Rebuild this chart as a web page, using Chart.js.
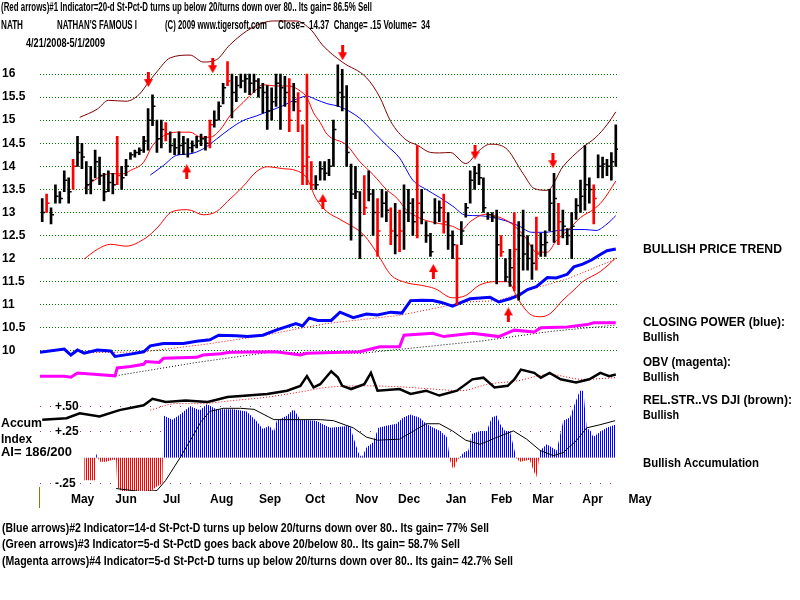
<!DOCTYPE html>
<html>
<head>
<meta charset="utf-8">
<script src="https://cdn.jsdelivr.net/npm/chart.js@4/dist/chart.umd.min.js"></script>
<style>
  body { margin: 0; background: #fff; }
  #wrap { position: relative; width: 800px; height: 600px; overflow: hidden; }
  #chart { position: absolute; left: 0; top: 0; }
  .t { position: absolute; white-space: pre; font: bold 12px "Liberation Sans", Arial, sans-serif; line-height: 14px; color: #000; transform-origin: 0 50%; }
  .big { font-size: 13px; }
  #mark { position: absolute; left: 39px; top: 487px; width: 1px; height: 21px; background: #808000; }
</style>
</head>
<body>
<div id="wrap">
  <canvas id="chart" width="800" height="600"></canvas>
  <div id="mark"></div>
</div>
<script>
// trading days counted from 4/21/2008 (day 0) to 5/1/2009 (day 260)
const monthTickDay = [18.3, 38, 58.7, 81.4, 103.3, 123.7, 147.1, 166.3, 187.6, 208.3, 227, 249.5, 271];
const monthNames = ["May", "Jun", "Jul", "Aug", "Sep", "Oct", "Nov", "Dec", "Jan", "Feb", "Mar", "Apr", "May"];
const priceTicks = [10, 10.5, 11, 11.5, 12, 12.5, 13, 13.5, 14, 14.5, 15, 15.5, 16];
const accumTicks = [-0.25, 0.25, 0.5];
const accumTickLabels = ["-.25", "+.25", "+.50"];

// one bar every second trading day
const priceHigh = [
  13.3, 13.4, 13.1, 13.6, 13.45, 13.9, 13.75, 14.15, 14.65, 14.5,
  14.1, 14.0, 14.35, 14.2, 13.85, 13.9, 13.85, 14.65, 14.0, 14.15,
  14.3, 14.35, 14.4, 14.65, 15.25, 15.55, 15.0, 15.0, 14.95, 14.75,
  14.6, 14.75, 14.65, 14.6, 14.55, 14.65, 14.7, 14.65, 15.0, 15.2,
  15.4, 15.8, 16.27, 16.0, 15.95, 16.0, 16.0, 16.0, 16.0, 15.9,
  15.8, 15.75, 15.7, 16.0, 16.0, 15.95, 15.9, 15.8, 15.6, 14.9,
  16.0, 14.1, 13.8, 14.1, 14.1, 14.15, 15.0, 16.2, 16.1, 15.75,
  14.05, 14.0, 13.45, 13.8, 13.9, 13.5, 13.3, 13.5, 13.45, 13.1,
  13.2, 13.05, 13.6, 13.5, 13.3, 14.45, 13.5, 12.8, 12.55, 13.3,
  13.25, 13.4, 13.0, 12.6, 12.3, 12.8, 13.2, 13.9, 14.0, 14.05,
  13.75, 13.0, 13.0, 13.05, 12.5, 12.0, 12.2, 13.0, 12.8, 13.05,
  12.5, 12.3, 12.9, 12.55, 12.6, 13.5, 13.85, 13.2, 13.05, 12.65,
  13.0, 13.3, 13.7, 14.45, 13.75, 13.6, 14.25, 14.2, 14.15, 14.3,
  14.9
];
const priceLow = [
  12.8, 13.0, 12.75, 13.2, 13.2, 13.45, 13.2, 13.5, 14.0, 13.95,
  13.4, 13.4, 13.75, 13.6, 13.25, 13.45, 13.4, 13.6, 13.5, 13.8,
  14.15, 14.2, 14.25, 14.3, 14.35, 14.88, 14.3, 14.4, 14.55, 14.3,
  14.25, 14.25, 14.25, 14.2, 14.3, 14.4, 14.45, 14.35, 14.4, 14.85,
  15.0, 15.35, 15.75, 15.05, 15.4, 15.7, 15.6, 15.55, 15.6, 15.5,
  15.15, 14.8, 15.0, 15.3, 14.8, 15.3, 14.75, 15.2, 14.75, 13.6,
  13.6, 13.5, 13.5, 13.7, 13.7, 13.8, 14.0, 15.3, 15.2, 14.0,
  12.4, 13.3, 12.0, 12.95, 13.25, 12.5, 12.05, 12.9, 12.8, 12.3,
  12.1, 12.15, 12.2, 12.8, 12.5, 12.45, 12.75, 12.35, 12.05, 12.75,
  12.8, 12.55, 12.2, 12.0, 11.0, 12.3, 12.9, 13.2, 13.5, 13.6,
  13.0, 12.85, 12.8, 11.45, 12.05, 11.5, 11.4, 11.3, 11.1, 11.75,
  11.75, 11.55, 11.75, 12.05, 12.05, 12.6, 12.35, 12.3, 12.45, 12.3,
  12.0, 12.85, 13.0, 13.05, 13.2, 12.75, 13.75, 13.75, 13.8, 13.7,
  14.0
];
const priceClose = [
  13.0, 13.2, 12.95, 13.35, 13.3, 13.7, 13.45, 14.0, 14.3, 14.2,
  13.6, 13.7, 14.1, 13.8, 13.45, 13.65, 13.6, 13.8, 13.75, 14.0,
  14.25, 14.3, 14.35, 14.55, 15.0, 15.3, 14.6, 14.8, 14.7, 14.45,
  14.4, 14.45, 14.5, 14.4, 14.45, 14.55, 14.6, 14.5, 14.9, 15.0,
  15.3, 15.7, 15.85, 15.6, 15.75, 15.85, 15.9, 15.8, 15.85, 15.7,
  15.6, 15.2, 15.4, 15.8, 15.7, 15.6, 15.0, 15.4, 15.2, 14.0,
  14.2, 13.6, 13.6, 13.95, 13.85, 14.0, 14.8, 15.6, 15.5, 14.3,
  13.4, 13.45, 12.5, 13.1, 13.4, 13.0, 12.6, 13.2, 13.05, 12.6,
  12.5, 12.6, 13.0, 13.2, 12.8, 13.2, 13.0, 12.5, 12.15, 13.0,
  13.1, 12.8, 12.5, 12.3, 12.0, 12.6, 13.1, 13.7, 13.85, 13.75,
  13.1, 12.95, 12.9, 12.3, 12.15, 11.6, 11.8, 12.2, 12.5, 12.1,
  12.0, 11.9, 12.1, 12.3, 12.35, 13.2, 13.3, 12.8, 12.7, 12.5,
  12.7, 13.15, 13.35, 13.6, 13.5, 13.3, 14.0, 14.05, 14.0, 14.1,
  14.37
];
const redBarDays = [2, 14, 34, 56, 76, 84, 112, 116, 118, 120, 122, 146, 152, 158, 162, 170, 182, 188, 208, 214, 224, 234, 250];

// [day, value] pairs
const upperBand = [[17, 15.06], [25, 15.24], [30, 15.43], [38, 15.41], [44, 15.56], [48, 15.81], [52, 16.05], [58, 16.35], [67, 16.41], [73, 16.26], [79, 16.31], [85, 16.63], [95, 17.0], [105, 17.15], [115, 17.15], [122, 16.95], [127, 16.63], [136, 16.26], [147, 15.92], [153, 15.5], [158, 14.97], [165, 14.57], [170, 14.46], [176, 14.3], [180, 14.29], [185, 14.3], [192, 14.06], [198, 14.34], [203, 14.48], [210, 14.4], [218, 13.84], [223, 13.52], [229, 13.48], [236, 13.99], [245, 14.41], [251, 14.63], [256, 14.9], [260, 15.18]];
const lowerBand = [[19, 11.99], [25, 12.2], [31, 12.31], [38, 12.27], [47, 12.45], [52, 12.66], [59, 13.02], [66, 13.06], [73, 12.95], [79, 13.02], [84, 13.24], [91, 13.56], [97, 13.88], [102, 13.99], [109, 13.95], [115, 13.91], [120, 13.74], [124, 13.31], [129, 13.02], [135, 12.85], [146, 12.5], [152, 12.1], [158, 11.65], [165, 11.48], [172, 11.42], [178, 11.35], [186, 11.15], [192, 11.2], [198, 11.42], [205, 11.5], [211, 11.5], [216, 11.1], [221, 10.8], [226, 10.74], [230, 10.8], [236, 11.1], [241, 11.32], [245, 11.5], [253, 11.72], [257, 11.88], [260, 12.02]];
const redAverage = [[19, 13.52], [25, 13.74], [31, 13.84], [37, 13.84], [40, 13.91], [46, 14.09], [50, 14.45], [55, 14.66], [61, 14.74], [67, 14.74], [72, 14.63], [76, 14.63], [81, 14.81], [85, 15.09], [91, 15.38], [97, 15.66], [100, 15.77], [106, 15.74], [112, 15.74], [117, 15.63], [120, 15.49], [123, 15.16], [126, 14.95], [129, 14.7], [138, 14.46], [144, 14.1], [150, 13.82], [156, 13.5], [161, 13.3], [165, 13.06], [172, 12.86], [180, 12.76], [186, 12.7], [190, 12.62], [194, 12.8], [201, 12.96], [207, 12.9], [213, 12.75], [219, 12.46], [224, 12.14], [229, 12.14], [233, 12.39], [238, 12.6], [244, 12.89], [250, 13.07], [254, 13.25], [260, 13.68]];
const blueAverage = [[49, 13.81], [55, 14.02], [61, 14.24], [67, 14.27], [73, 14.38], [79, 14.59], [85, 14.81], [91, 14.99], [97, 15.09], [103, 15.2], [109, 15.31], [115, 15.45], [120, 15.52], [124, 15.45], [129, 15.36], [135, 15.29], [144, 15.04], [150, 14.75], [156, 14.46], [162, 14.18], [168, 13.7], [174, 13.5], [180, 13.33], [186, 13.14], [192, 12.94], [198, 12.93], [204, 12.89], [210, 12.82], [216, 12.71], [222, 12.57], [228, 12.57], [234, 12.61], [240, 12.63], [246, 12.63], [251, 12.61], [256, 12.75], [260, 12.93]];
const closingPower = [[-1, 9.97], [10, 10.04], [13, 9.91], [16, 10.02], [19, 9.95], [25, 10.02], [31, 10.0], [33, 9.88], [40, 9.93], [46, 9.98], [49, 10.11], [55, 10.16], [64, 10.16], [70, 10.21], [76, 10.24], [80, 10.34], [88, 10.33], [93, 10.31], [100, 10.34], [106, 10.45], [115, 10.59], [118, 10.54], [121, 10.71], [125, 10.66], [131, 10.66], [135, 10.84], [141, 10.72], [147, 10.8], [152, 10.78], [158, 10.84], [163, 10.82], [167, 11.09], [172, 11.1], [177, 11.09], [181, 11.05], [186, 10.97], [190, 11.05], [194, 11.13], [203, 11.16], [207, 11.06], [212, 11.13], [216, 11.2], [220, 11.33], [224, 11.39], [229, 11.59], [233, 11.58], [238, 11.66], [241, 11.82], [245, 11.88], [249, 11.97], [253, 12.09], [256, 12.17], [260, 12.21]];
const closingPowerTrend = [[19, 9.96], [46, 9.98], [75, 10.15], [100, 10.33], [117, 10.49], [130, 10.6], [162, 10.77], [192, 11.06], [207, 11.09], [222, 11.34], [238, 11.56], [260, 11.99]];
const obv = [[-1, 9.45], [10, 9.45], [13, 9.43], [16, 9.52], [25, 9.49], [33, 9.46], [34, 9.63], [40, 9.66], [46, 9.71], [47, 9.77], [53, 9.75], [55, 9.84], [70, 9.86], [73, 9.91], [81, 9.94], [85, 9.97], [106, 9.98], [117, 9.91], [120, 9.95], [144, 9.98], [153, 10.09], [162, 10.09], [164, 10.34], [177, 10.38], [182, 10.31], [195, 10.38], [207, 10.31], [214, 10.45], [223, 10.41], [226, 10.5], [238, 10.52], [247, 10.57], [250, 10.61], [260, 10.61]];
const obvTrend = [[32, 9.45], [70, 9.75], [103, 9.97], [145, 9.95], [200, 10.22], [230, 10.42], [260, 10.56]];
const relStrength = [[0, 1.33], [11, 1.5], [17, 2.0], [26, 1.67], [35, 2.33], [46, 2.83], [50, 3.5], [56, 3.17], [65, 3.33], [75, 3.17], [84, 3.67], [93, 3.83], [102, 4.0], [111, 4.33], [117, 4.83], [120, 5.83], [123, 4.67], [126, 5.0], [131, 6.33], [134, 5.7], [136, 4.83], [140, 4.5], [146, 5.0], [149, 6.17], [152, 4.33], [162, 4.5], [167, 4.0], [174, 4.33], [180, 3.83], [188, 4.33], [195, 5.5], [200, 5.67], [205, 4.67], [211, 4.83], [214, 5.5], [217, 6.5], [223, 6.17], [226, 5.67], [230, 6.17], [235, 5.5], [242, 5.17], [248, 5.5], [253, 6.17], [257, 5.83], [260, 6.0]];
const relStrengthAverage = [[49, 2.33], [61, 3.0], [71, 3.0], [87, 3.33], [102, 3.67], [117, 4.2], [129, 4.67], [147, 4.83], [162, 4.73], [177, 4.5], [190, 4.33], [202, 5.0], [215, 5.33], [230, 6.0], [245, 5.5], [260, 5.67]];
const accum = [[19, -0.22], [24, -0.22], [24.5, 0.04], [26, -0.04], [29, -0.04], [32, -0.02], [33.5, -0.02], [34, -0.28], [38, -0.38], [44, -0.39], [49, -0.33], [52, -0.28], [54.5, -0.25], [55, 0.41], [59, 0.37], [62.5, 0.42], [67, 0.5], [71.5, 0.46], [74.6, 0.52], [79, 0.47], [86.6, 0.47], [92.7, 0.45], [97, 0.36], [100, 0.28], [103, 0.31], [105, 0.25], [106.3, 0.36], [111, 0.41], [114, 0.47], [117, 0.37], [124, 0.36], [130.5, 0.29], [139.5, 0.31], [141, 0.2], [143.3, 0.05], [144.8, 0.0], [147, 0.1], [150, 0.15], [152.4, 0.29], [156, 0.31], [160.6, 0.33], [163.7, 0.39], [166.7, 0.42], [171, 0.39], [174, 0.33], [177.3, 0.29], [180.4, 0.26], [183.4, 0.2], [184.9, -0.03], [186.4, -0.12], [188, -0.03], [191, 0.05], [193.2, 0.07], [194.7, 0.23], [198.5, 0.26], [201.5, 0.26], [203.8, 0.39], [206, 0.41], [207.5, 0.33], [209.8, 0.26], [212, 0.26], [215, -0.01], [216.6, -0.04], [221, -0.02], [222.6, -0.12], [224, -0.19], [225.7, 0.07], [228.7, 0.13], [233.2, 0.07], [236.2, 0.36], [239.2, 0.39], [241.5, 0.53], [243.7, 0.65], [245.3, 0.65], [246.8, 0.29], [248.5, 0.26], [249.8, 0.2], [252.8, 0.25], [255.8, 0.29], [259.7, 0.32]];
const accumAverage = [[33.5, -0.3], [45, -0.33], [52, -0.32], [56, -0.22], [62.5, 0.0], [68, 0.2], [72, 0.35], [76, 0.45], [82, 0.48], [90, 0.48], [96, 0.47], [105, 0.37], [117, 0.37], [126, 0.37], [132, 0.36], [141, 0.29], [147, 0.2], [152, 0.17], [162, 0.18], [174, 0.33], [180, 0.33], [186, 0.26], [192, 0.17], [198.5, 0.13], [207.5, 0.21], [213.6, 0.26], [219.6, 0.18], [225.7, 0.07], [231.7, 0.02], [236.2, 0.05], [242.3, 0.17], [246.8, 0.29], [252.8, 0.32], [259.7, 0.36]];
const sellArrows = [[48.1, 15.88], [77.3, 16.18], [136.2, 16.46], [196.2, 14.31], [231.5, 14.12]];
const buyArrows = [[65.5, 13.88], [127.2, 13.24], [177.3, 11.72], [211.3, 10.78]];

const texts = [
  ["(Red arrows)#1 Indicator=20-d St-Pct-D turns up below 20/turns down over 80.. Its gain= 86.5% Sell", 1, 7, 371, ""],
  ["NATH", 1, 25, 22, ""],
  ["NATHAN'S FAMOUS I", 57, 25, 80, ""],
  ["(C) 2009 www.tigersoft.com", 165, 25, 102, ""],
  ["Close=  14.37  Change= .15 Volume=  34", 278, 25, 152, ""],
  ["4/21/2008-5/1/2009", 26, 43, 79, ""],
  ["BULLISH PRICE TREND", 643, 249, 139, "big"],
  ["CLOSING POWER (blue):", 643, 322, 142, "big"],
  ["Bullish", 643, 337, 36, ""],
  ["OBV (magenta):", 643, 362, 88, "big"],
  ["Bullish", 643, 377, 36, ""],
  ["REL.STR..VS DJI (brown):", 643, 400, 149, "big"],
  ["Bullish", 643, 415, 36, ""],
  ["Bullish Accumulation", 643, 463, 116, ""],
  ["Accum", 1, 423, 41, ""],
  ["Index", 1, 439, 31, ""],
  ["AI= 186/200", 1, 452, 71, ""],
  ["(Blue arrows)#2 Indicator=14-d St-Pct-D turns up below 20/turns down over 80.. Its gain= 77% Sell", 2, 528, 487, ""],
  ["(Green arrows)#3 Indicator=5-d St-PctD goes back above 20/below 80.. Its gain= 58.7% Sell", 2, 544, 458, ""],
  ["(Magenta arrows)#4 Indicator=5-d St-Pct-D turns up below 20/turns down over 80.. Its gain= 42.7% Sell", 2, 561, 511, ""],
];

const wrap = document.getElementById("wrap");
texts.forEach(([t, x, y, w, cls]) => {
  const el = document.createElement("div");
  el.className = "t " + cls;
  el.textContent = t;
  el.style.left = x + "px";
  el.style.top = y - 7 + "px";
  wrap.appendChild(el);
  const actual = el.getBoundingClientRect().width;
  el.style.transform = `scaleX(${w / actual})`;
});

const canvas = document.getElementById("chart");
const ctx2d = canvas.getContext("2d");

function pts(pairs) {
  return pairs.map(([x, y]) => ({ x, y }));
}

function stripes(color) {
  const c = document.createElement("canvas");
  c.width = 2;
  c.height = 1;
  const g = c.getContext("2d");
  g.fillStyle = color;
  g.fillRect(0, 0, 1, 1);
  return ctx2d.createPattern(c, "repeat");
}

function arrowImage(up) {
  const c = document.createElement("canvas");
  c.width = 9;
  c.height = 15;
  const g = c.getContext("2d");
  g.fillStyle = "#ff0000";
  if (up) {
    g.translate(0, 15);
    g.scale(1, -1);
  }
  g.fillRect(3, 0, 3, 8);
  g.beginPath();
  g.moveTo(0, 7);
  g.lineTo(9, 7);
  g.lineTo(4.5, 15);
  g.closePath();
  g.fill();
  return c;
}

const barDays = priceHigh.map((_, i) => i * 2);
const barColor = (c) => (redBarDays.includes(c.raw.x) ? "#ff0000" : "#000000");
const boldFont = { family: "'Liberation Sans', Arial, sans-serif", size: 12, weight: "bold" };

function line(data, color, width, axis, extra) {
  return Object.assign(
    {
      type: "line",
      data: pts(data),
      yAxisID: axis,
      borderColor: color,
      borderWidth: width,
      pointRadius: 0,
      fill: false,
    },
    extra || {},
  );
}

const smooth = { cubicInterpolationMode: "monotone" };

new Chart(canvas, {
  type: "scatter",
  data: {
    datasets: [
      {
        type: "line",
        data: pts(sellArrows),
        yAxisID: "y",
        showLine: false,
        pointStyle: arrowImage(false),
      },
      {
        type: "line",
        data: pts(buyArrows),
        yAxisID: "y",
        showLine: false,
        pointStyle: arrowImage(true),
      },
      {
        type: "bar",
        data: barDays.map((d, i) => ({ x: d, y: [priceLow[i], priceHigh[i]] })),
        yAxisID: "y",
        backgroundColor: barColor,
        barThickness: 2,
        borderWidth: 0,
      },
      {
        type: "line",
        data: barDays.map((d, i) => ({ x: d, y: priceClose[i] })),
        yAxisID: "y",
        showLine: false,
        pointStyle: "dash",
        pointRadius: 3,
        pointBorderWidth: 1.5,
        pointBorderColor: barColor,
      },
      line(upperBand, "#800000", 1, "y", smooth),
      line(lowerBand, "#ff0000", 1, "y", smooth),
      line(redAverage, "#ff0000", 1, "y", smooth),
      line(blueAverage, "#0000ff", 1, "y", smooth),
      line(closingPower, "#0000ff", 3, "y"),
      line(closingPowerTrend, "#ff0000", 1, "y", { borderDash: [1, 2] }),
      line(obv, "#ff00ff", 3, "y"),
      line(obvTrend, "#000000", 1, "y", { borderDash: [1, 2] }),
      line(relStrength, "#000000", 2.5, "yRS"),
      line(relStrengthAverage, "#ff0000", 1, "yRS", Object.assign({ borderDash: [1, 2] }, smooth)),
      line(accumAverage, "#000000", 1, "yAcc"),
      line(accum, "rgba(0,0,0,0)", 1, "yAcc", {
        fill: { target: "origin", above: stripes("#0000ff"), below: stripes("#ff0000") },
      }),
    ],
  },
  options: {
    responsive: false,
    animation: false,
    layout: { padding: { left: 2, right: 182, top: 0, bottom: 0 } },
    plugins: { legend: { display: false }, tooltip: { enabled: false } },
    scales: {
      x: {
        type: "linear",
        min: -1,
        max: 261,
        offset: false,
        grid: { display: false, drawTicks: false },
        border: { display: false },
        afterBuildTicks: (s) => {
          s.ticks = monthTickDay.map((v) => ({ value: v }));
        },
        afterFit: (s) => {
          s.height = 109;
          s.paddingLeft = 0;
          s.paddingRight = 0;
        },
        ticks: {
          autoSkip: false,
          maxRotation: 0,
          padding: 1,
          color: "#000",
          font: boldFont,
          callback: (v, i) => monthNames[i],
        },
      },
      y: {
        position: "left",
        weight: 10,
        min: 6.964,
        max: 17.485,
        afterBuildTicks: (s) => {
          s.ticks = priceTicks.map((v) => ({ value: v }));
        },
        afterFit: (s) => {
          s.width = 38;
          s.paddingTop = 0;
          s.paddingBottom = 0;
        },
        grid: { color: "#008000", drawTicks: false },
        border: { display: false, dash: [1, 2] },
        ticks: {
          autoSkip: false,
          crossAlign: "far",
          padding: 0,
          color: "#000",
          font: boldFont,
          callback: (v) => String(v),
        },
      },
      yAcc: {
        position: "left",
        weight: 0,
        min: -0.324,
        max: 4.397,
        afterBuildTicks: (s) => {
          s.ticks = accumTicks.map((v) => ({ value: v }));
        },
        afterFit: (s) => {
          s.width = 0;
          s.paddingTop = 0;
          s.paddingBottom = 0;
        },
        grid: { color: "#993399", drawTicks: false },
        border: { display: false, dash: [1, 9] },
        ticks: {
          autoSkip: false,
          mirror: true,
          padding: 15,
          color: "#000",
          font: boldFont,
          showLabelBackdrop: true,
          backdropColor: "#ffffff",
          backdropPadding: 1,
          callback: (v, i) => accumTickLabels[i],
        },
      },
      yRS: { display: false, min: -6, max: 44 },
    },
  },
});
</script>
</body>
</html>
